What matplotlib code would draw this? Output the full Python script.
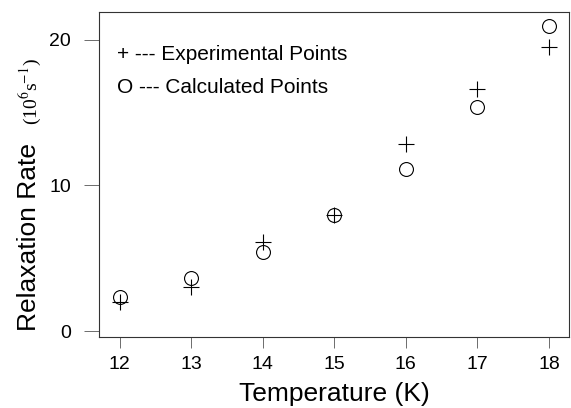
import matplotlib
matplotlib.use('Agg')
import matplotlib.pyplot as plt

temps = [12, 13, 14, 15, 16, 17, 18]
exp_vals = [2.0, 3.0, 6.1, 7.95, 12.8, 16.6, 19.5]
calc_vals = [2.35, 3.65, 5.45, 7.95, 11.1, 15.4, 20.9]

plt.rcParams['font.family'] = ['Liberation Sans', 'DejaVu Sans']
plt.rcParams['mathtext.fontset'] = 'stix'

fig = plt.figure(figsize=(5.71, 4.08), dpi=100)
ax = fig.add_axes([0.173, 0.174, 0.8235, 0.797])

ax.plot(temps, exp_vals, linestyle='none', marker='+', markersize=12,
        markeredgewidth=0.8, color='black')
ax.plot(temps, calc_vals, linestyle='none', marker='o', markersize=10,
        markeredgewidth=0.8, markerfacecolor='none', color='black')

ax.set_xlim(11.71, 18.28)
ax.set_ylim(-0.41, 21.9)
ax.set_xticks(temps)
ax.set_yticks([0, 10, 20])
ax.tick_params(axis='both', labelsize=14, width=0.6, color='#555555')
ax.tick_params(axis='y', length=11, pad=9)
ax.tick_params(axis='x', length=8, pad=6)
for s in ax.spines.values():
    s.set_linewidth(0.8)
    s.set_color('#333333')

ax.set_xlabel('Temperature (K)', fontsize=19, labelpad=6)

# y label: sans part plus serif unit part
fig.text(0.05, 0.42, 'Relaxation Rate', rotation=90, fontsize=19,
         ha='center', va='center')
fig.text(0.053, 0.775, r'(10$^6$s$^{-1}$)', rotation=90, fontsize=14,
         ha='center', va='center', family='Liberation Serif')

ax.text(11.97, 19.0, '+ --- Experimental Points', fontsize=15, va='center')
ax.text(11.97, 16.7, 'O --- Calculated Points', fontsize=15, va='center')

fig.savefig('out.png', dpi=100)
